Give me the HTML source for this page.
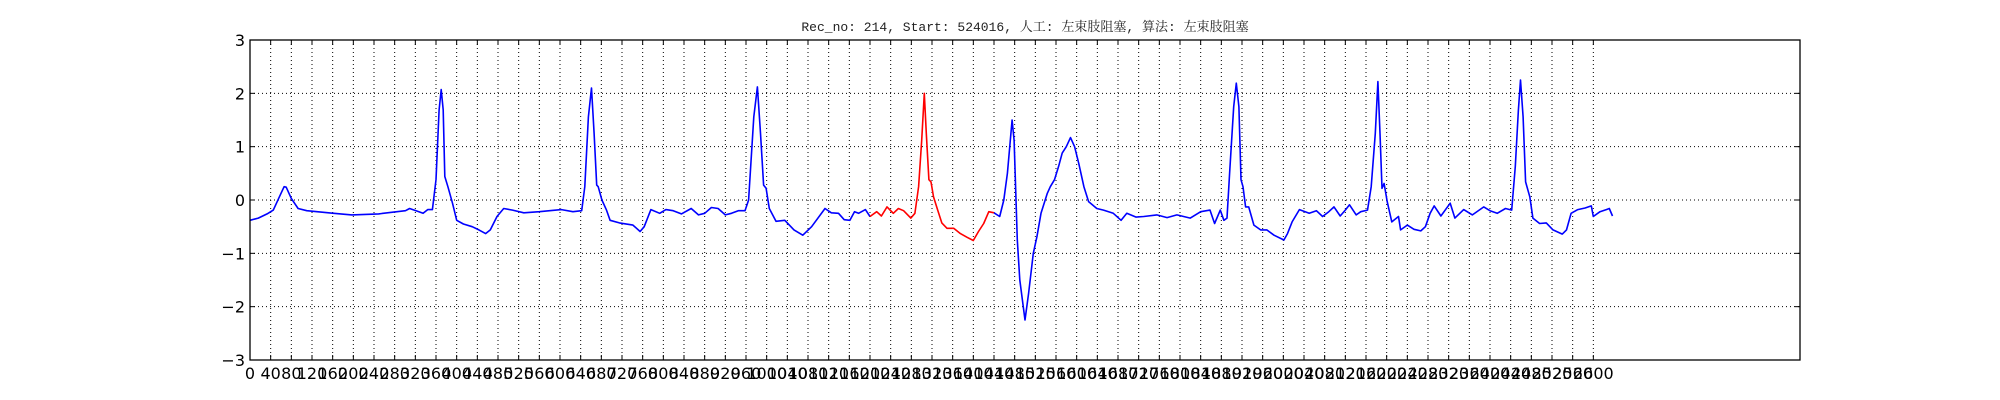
<!DOCTYPE html>
<html><head><meta charset="utf-8"><style>
html,body{margin:0;padding:0;background:#fff;}
svg{display:block;}
</style></head><body>
<svg id="chart" width="2000" height="400" viewBox="0 0 2000 400" xmlns="http://www.w3.org/2000/svg">
<text x="1025" y="31" text-anchor="middle" font-family="'Liberation Mono','Noto Serif CJK SC',monospace" font-size="13" fill="#222">Rec_no: 214, Start: 524016, 人工: 左束肢阻塞, 算法: 左束肢阻塞</text>
<g id="grid"></g>
<g id="series"></g>
<rect x="250" y="40" width="1550" height="320" fill="none" stroke="#000" stroke-width="1.3"/>
<g id="ticks"></g>
</svg>
<script>
const xMin = 0, xMax = 3000, yMin = -3, yMax = 3;
const yTicks = [-3, -2, -1, 0, 1, 2, 3];
const xTickStep = 40, xTickMax = 2600;
const redRange = [1200, 1440];
const sampleX = [0,16,33,45,57,66,70,80,93,110,162,197,249,301,309,327,335,344,353,360,366,370,374,377,383,392,400,413,430,443,456,465,478,491,508,530,560,580,603,625,642,648,655,661,666,671,674,681,690,697,715,741,755,763,776,793,805,819,835,854,868,880,893,906,920,932,945,958,965,975,982,988,994,999,1005,1018,1035,1053,1070,1087,1113,1125,1139,1150,1161,1170,1178,1191,1200,1213,1222,1233,1245,1255,1265,1279,1287,1294,1300,1305,1309,1314,1318,1323,1331,1339,1349,1362,1375,1388,1400,1410,1420,1430,1440,1451,1459,1466,1475,1479,1485,1490,1500,1507,1516,1523,1531,1543,1549,1557,1565,1572,1580,1588,1596,1604,1614,1623,1639,1652,1671,1686,1697,1715,1730,1755,1775,1794,1820,1840,1858,1867,1878,1885,1891,1896,1904,1909,1914,1918,1922,1927,1933,1943,1956,1968,1982,2001,2008,2017,2031,2050,2064,2076,2088,2098,2110,2120,2128,2141,2150,2163,2170,2178,2183,2187,2191,2195,2201,2210,2223,2227,2240,2253,2266,2275,2284,2292,2305,2323,2332,2349,2366,2388,2400,2414,2430,2442,2449,2455,2459,2464,2469,2477,2483,2496,2509,2522,2540,2548,2557,2570,2584,2596,2600,2613,2625,2631,2637];
const sampleY = [-0.38,-0.34,-0.26,-0.19,0.06,0.25,0.24,0.03,-0.16,-0.2,-0.25,-0.28,-0.26,-0.2,-0.16,-0.22,-0.25,-0.18,-0.18,0.38,1.69,2.07,1.69,0.44,0.25,-0.06,-0.38,-0.45,-0.5,-0.56,-0.63,-0.56,-0.31,-0.16,-0.19,-0.24,-0.22,-0.2,-0.18,-0.22,-0.2,0.25,1.56,2.1,1.25,0.28,0.25,0.0,-0.19,-0.38,-0.43,-0.47,-0.59,-0.5,-0.18,-0.25,-0.18,-0.2,-0.26,-0.16,-0.28,-0.25,-0.14,-0.16,-0.28,-0.25,-0.2,-0.2,0.0,1.56,2.12,1.25,0.28,0.22,-0.16,-0.4,-0.38,-0.56,-0.66,-0.5,-0.16,-0.24,-0.25,-0.37,-0.38,-0.22,-0.25,-0.18,-0.31,-0.22,-0.3,-0.13,-0.25,-0.16,-0.2,-0.34,-0.25,0.25,1.12,2.0,1.25,0.38,0.34,0.06,-0.19,-0.43,-0.53,-0.53,-0.63,-0.7,-0.76,-0.59,-0.44,-0.22,-0.24,-0.31,0.0,0.5,1.5,1.12,-0.75,-1.5,-2.25,-1.75,-1.0,-0.69,-0.25,0.12,0.25,0.38,0.63,0.88,1.0,1.17,1.0,0.69,0.25,-0.03,-0.16,-0.19,-0.25,-0.38,-0.25,-0.32,-0.31,-0.28,-0.33,-0.28,-0.34,-0.22,-0.19,-0.44,-0.19,-0.38,-0.34,0.5,1.75,2.19,1.75,0.38,0.25,-0.13,-0.13,-0.47,-0.56,-0.56,-0.66,-0.75,-0.63,-0.41,-0.18,-0.25,-0.2,-0.31,-0.22,-0.13,-0.3,-0.19,-0.09,-0.28,-0.22,-0.19,0.25,1.25,2.22,1.25,0.22,0.31,-0.03,-0.41,-0.31,-0.56,-0.47,-0.55,-0.58,-0.5,-0.25,-0.11,-0.3,-0.06,-0.34,-0.18,-0.28,-0.13,-0.2,-0.25,-0.16,-0.19,0.63,1.69,2.25,1.56,0.34,0.06,-0.34,-0.44,-0.43,-0.56,-0.64,-0.56,-0.25,-0.18,-0.15,-0.11,-0.31,-0.22,-0.18,-0.16,-0.3];

const L = 250, R = 1800, T = 40, B = 360;
function sx(v){ return L + (v - xMin) / (xMax - xMin) * (R - L); }
function sy(v){ return B - (v - yMin) / (yMax - yMin) * (B - T); }
const NS = 'http://www.w3.org/2000/svg';
const grid = document.getElementById('grid');
const ticks = document.getElementById('ticks');
const series = document.getElementById('series');
function mk(tag, attrs, parent){ const e = document.createElementNS(NS, tag); for (const k in attrs) e.setAttribute(k, attrs[k]); parent.appendChild(e); return e; }

yTicks.forEach(v => {
  const y = sy(v);
  if (v > yMin && v < yMax) {
    const g = mk('line', {x1:L, x2:R, y1:y, y2:y, stroke:'#000', 'stroke-width':1, 'stroke-dasharray':'1,3'}, grid);
    
    
  }
  const tl = mk('line', {x1:L, x2:L+5, y1:y, y2:y, stroke:'#000'}, ticks);
  
  
  const tr = mk('line', {x1:R-5, x2:R, y1:y, y2:y, stroke:'#000'}, ticks);
  
  
  const t = mk('text', {x:L-5, y:y+6, 'text-anchor':'end', 'font-family':"'DejaVu Sans','Liberation Sans',sans-serif", 'font-size':16, fill:'#000'}, ticks);
  t.textContent = v < 0 ? '\u2212' + Math.abs(v) : String(v);
  
  
});

for (let v = 0; v <= xTickMax; v += xTickStep) {
  const x = sx(v);
  if (v > xMin) {
    const g = mk('line', {x1:x, x2:x, y1:T, y2:B, stroke:'#000', 'stroke-width':1, 'stroke-dasharray':'1,3'}, grid);
    
    
  }
  const tb = mk('line', {x1:x, x2:x, y1:B-5, y2:B, stroke:'#000'}, ticks);
  
  
  const tt = mk('line', {x1:x, x2:x, y1:T, y2:T+5, stroke:'#000'}, ticks);
  
  
  const t = mk('text', {x:x, y:379, 'text-anchor':'middle', 'font-family':"'DejaVu Sans','Liberation Sans',sans-serif", 'font-size':16, fill:'#000'}, ticks);
  t.textContent = String(v);
  
  
}

function pts(filter){
  const out = [];
  for (let i = 0; i < sampleX.length; i++) if (filter(sampleX[i])) out.push(sx(sampleX[i]).toFixed(1) + ',' + sy(sampleY[i]).toFixed(1));
  return out.join(' ');
}
const blue1 = mk('polyline', {points: pts(x => x <= redRange[0]), fill:'none', stroke:'#0000ff', 'stroke-width':1.6, 'stroke-linejoin':'round'}, series);


const red = mk('polyline', {points: pts(x => x >= redRange[0] && x <= redRange[1]), fill:'none', stroke:'#ff0000', 'stroke-width':1.6, 'stroke-linejoin':'round'}, series);


const blue2 = mk('polyline', {points: pts(x => x >= redRange[1]), fill:'none', stroke:'#0000ff', 'stroke-width':1.6, 'stroke-linejoin':'round'}, series);


</script>
</body></html>
